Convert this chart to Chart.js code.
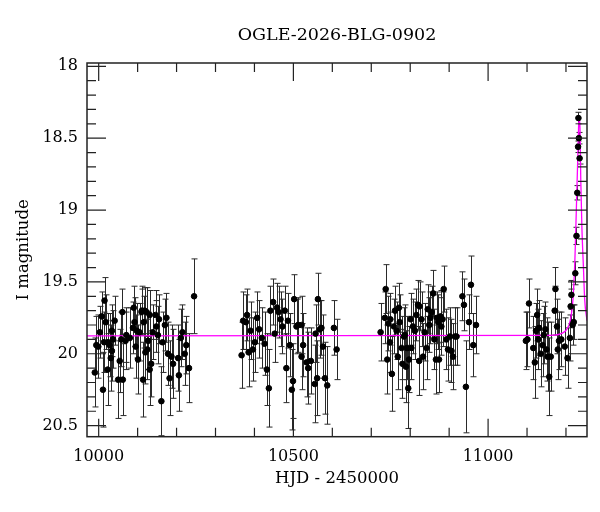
<!DOCTYPE html>
<html>
<head>
<meta charset="utf-8">
<script src="https://cdn.jsdelivr.net/npm/chart.js@4/dist/chart.umd.min.js"></script>
<style>
  html, body { margin: 0; padding: 0; background: #fff; }
  #wrap { width: 600px; height: 512px; }
</style>
</head>
<body>
<div id="wrap"><canvas id="lc" width="600" height="512"></canvas></div>
<script>
// photometry, one block per observing season
const season1Hjd = [9990, 9994, 9999, 10003, 10008, 10011, 10014, 10015, 10018, 10023,
    10024, 10028, 10031, 10034, 10034, 10037, 10041, 10050, 10054, 10058,
    10061, 10062, 10069, 10071, 10080, 10088, 10090, 10092, 10095, 10098,
    10101, 10105, 10110, 10111, 10114, 10116, 10118, 10120, 10123, 10125,
    10127, 10131, 10131, 10135, 10139, 10146, 10148, 10152, 10155, 10161,
    10164, 10170, 10174, 10178, 10182, 10187, 10191, 10204, 10206, 10211,
    10215, 10221, 10225, 10232, 10245];
const season1Mag = [20.13, 19.94, 19.95, 19.85, 19.74, 20.25, 19.92, 19.63, 19.78, 20.11,
    19.92, 19.94, 20.03, 19.84, 19.98, 19.90, 19.77, 20.18, 20.05, 19.90,
    19.71, 20.18, 19.91, 19.87, 19.89, 19.82, 19.68, 19.78, 19.95, 19.84,
    20.04, 19.85, 19.71, 19.70, 20.18, 19.78, 19.70, 19.99, 19.71, 19.97,
    19.91, 20.11, 19.73, 20.07, 19.85, 19.73, 19.81, 19.87, 19.76, 20.33,
    19.92, 19.80, 19.75, 20.00, 20.17, 20.02, 20.07, 20.03, 20.15, 19.89,
    19.85, 20.00, 19.94, 20.10, 19.60];
const season1Err = [0.24, 0.20, 0.22, 0.18, 0.17, 0.26, 0.21, 0.16, 0.19, 0.25,
    0.20, 0.22, 0.23, 0.18, 0.21, 0.20, 0.17, 0.27, 0.22, 0.19,
    0.16, 0.25, 0.20, 0.19, 0.21, 0.18, 0.15, 0.17, 0.22, 0.19,
    0.24, 0.20, 0.16, 0.17, 0.26, 0.18, 0.16, 0.22, 0.17, 0.21,
    0.20, 0.25, 0.17, 0.23, 0.19, 0.17, 0.18, 0.20, 0.17, 0.24,
    0.21, 0.18, 0.17, 0.22, 0.26, 0.22, 0.24, 0.23, 0.25, 0.20,
    0.19, 0.22, 0.20, 0.24, 0.26];

const season2Hjd = [10367, 10371, 10378, 10381, 10385, 10390, 10396, 10401, 10407, 10412,
    10419, 10426, 10432, 10437, 10441, 10448, 10452, 10458, 10462, 10467,
    10472, 10478, 10482, 10486, 10491, 10496, 10499, 10502, 10508, 10512,
    10521, 10521, 10525, 10534, 10538, 10545, 10555, 10557, 10561, 10563,
    10568, 10572, 10576, 10581, 10587, 10604, 10611];
const season2Mag = [20.01, 19.77, 19.78, 19.73, 19.99, 19.84, 19.97, 19.92, 19.75, 19.83,
    19.89, 19.93, 20.11, 20.24, 19.70, 19.64, 19.86, 19.68, 19.71, 19.76,
    19.81, 19.70, 20.10, 19.77, 19.94, 20.25, 20.19, 19.62, 19.81, 19.80,
    19.80, 20.02, 19.94, 20.06, 20.10, 20.05, 20.21, 19.86, 20.17, 19.62,
    19.83, 19.82, 19.95, 20.17, 20.22, 19.82, 19.97];
const season2Err = [0.23, 0.20, 0.19, 0.18, 0.24, 0.20, 0.22, 0.21, 0.18, 0.20,
    0.21, 0.22, 0.25, 0.27, 0.17, 0.16, 0.20, 0.17, 0.18, 0.19,
    0.19, 0.17, 0.24, 0.19, 0.22, 0.28, 0.26, 0.17, 0.19, 0.19,
    0.20, 0.23, 0.22, 0.24, 0.25, 0.23, 0.27, 0.20, 0.26, 0.18,
    0.20, 0.19, 0.22, 0.25, 0.27, 0.19, 0.21];

const season3Hjd = [10724, 10735, 10737, 10741, 10744, 10748, 10749, 10753, 10758, 10761,
    10765, 10768, 10771, 10773, 10778, 10780, 10784, 10786, 10789, 10792,
    10795, 10797, 10801, 10803, 10807, 10812, 10816, 10820, 10823, 10824,
    10829, 10833, 10837, 10842, 10845, 10849, 10852, 10855, 10859, 10862,
    10866, 10869, 10872, 10874, 10878, 10880, 10883, 10886, 10893, 10897,
    10902, 10906, 10910, 10915, 10919, 10934, 10938, 10943, 10951, 10956,
    10962, 10969];
const season3Mag = [19.85, 19.75, 19.55, 20.04, 19.79, 19.92, 19.76, 20.14, 19.81, 19.70,
    19.84, 20.02, 19.68, 19.78, 19.96, 20.07, 19.88, 19.87, 20.09, 19.96,
    20.24, 20.04, 19.76, 19.96, 19.81, 19.84, 19.73, 19.66, 20.05, 19.67,
    19.76, 20.02, 19.85, 19.96, 19.69, 19.80, 19.75, 19.71, 19.58, 19.90,
    20.04, 19.75, 19.78, 20.04, 19.74, 19.81, 19.76, 19.55, 19.90, 19.97,
    19.88, 19.98, 20.02, 19.88, 19.88, 19.60, 19.66, 20.23, 19.78, 19.52,
    19.94, 19.80];
const season3Err = [0.20, 0.18, 0.17, 0.24, 0.19, 0.21, 0.18, 0.26, 0.19, 0.17,
    0.20, 0.23, 0.17, 0.19, 0.22, 0.24, 0.20, 0.21, 0.25, 0.22,
    0.28, 0.23, 0.18, 0.22, 0.19, 0.20, 0.18, 0.17, 0.24, 0.17,
    0.19, 0.23, 0.20, 0.22, 0.17, 0.19, 0.18, 0.18, 0.16, 0.21,
    0.24, 0.18, 0.19, 0.23, 0.18, 0.20, 0.19, 0.16, 0.21, 0.22,
    0.20, 0.22, 0.23, 0.20, 0.20, 0.17, 0.18, 0.32, 0.19, 0.20,
    0.22, 0.20];

const season4Hjd = [11097, 11101, 11105, 11116, 11120, 11123, 11126, 11129, 11131, 11135,
    11140, 11143, 11147, 11150, 11153, 11157, 11161, 11171, 11173, 11177,
    11179, 11182, 11188, 11197, 11204, 11210, 11212, 11214, 11217, 11220,
    11224, 11227, 11229, 11231, 11232, 11233, 11235];
const season4Mag = [19.91, 19.90, 19.65, 19.96, 20.06, 19.84, 19.73, 19.90, 19.82, 20.00,
    19.94, 19.87, 19.83, 19.97, 20.02, 20.16, 20.02, 19.70, 19.55, 19.81,
    19.97, 19.91, 19.90, 19.95, 20.03, 19.89, 19.67, 19.59, 19.80, 19.78,
    19.44, 19.18, 18.88, 18.56, 18.36, 18.50, 18.64];
const season4Err = [0.20, 0.19, 0.17, 0.22, 0.25, 0.19, 0.18, 0.21, 0.19, 0.23,
    0.22, 0.20, 0.19, 0.22, 0.24, 0.27, 0.24, 0.17, 0.15, 0.19,
    0.21, 0.20, 0.19, 0.20, 0.21, 0.16, 0.12, 0.10, 0.14, 0.12,
    0.08, 0.06, 0.05, 0.04, 0.04, 0.04, 0.04];

// microlensing model, sampled by eye from the magenta curve
const modelHjd = [9970, 11160, 11192, 11202, 11210, 11218, 11223, 11228, 11232, 11233,
    11236, 11238, 11241, 11245, 11248, 11254];
const modelMag = [19.875, 19.872, 19.855, 19.83, 19.78, 19.62, 19.34, 18.86, 18.47, 18.36,
    18.43, 18.79, 19.13, 19.41, 19.62, 19.77];

const xLabelTicks = [10000, 10500, 11000];
const xMinorTicks = [10100, 10200, 10300, 10400, 10600, 10700, 10800, 10900, 11100, 11200];
const yLabelTicks = [18, 18.5, 19, 19.5, 20, 20.5];
const yMinorTicks = [18.1, 18.2, 18.3, 18.4, 18.6, 18.7, 18.8, 18.9, 19.1, 19.2, 19.3, 19.4,
    19.6, 19.7, 19.8, 19.9, 20.1, 20.2, 20.3, 20.4];

const SERIF = "'DejaVu Serif', 'Liberation Serif', serif";

const hjd = [...season1Hjd, ...season2Hjd, ...season3Hjd, ...season4Hjd];
const mag = [...season1Mag, ...season2Mag, ...season3Mag, ...season4Mag];
const magErr = [...season1Err, ...season2Err, ...season3Err, ...season4Err];

const points = hjd.map((t, i) => ({ x: t, y: mag[i], e: magErr[i] }));
const model = modelHjd.map((t, i) => ({ x: t, y: modelMag[i] }));

const errorBars = {
    id: 'errorBars',
    beforeDatasetsDraw(chart) {
        const { ctx, chartArea: a, scales: { x, y } } = chart;
        ctx.save();
        ctx.beginPath();
        ctx.rect(a.left, a.top, a.right - a.left, a.bottom - a.top);
        ctx.clip();
        ctx.strokeStyle = '#2a2a2a';
        ctx.lineWidth = 1;
        ctx.beginPath();
        for (const p of points) {
            const px = Math.round(x.getPixelForValue(p.x)) + 0.5;
            const top = y.getPixelForValue(p.y - p.e);
            const bot = y.getPixelForValue(p.y + p.e);
            ctx.moveTo(px, top); ctx.lineTo(px, bot);
            ctx.moveTo(px - 3, top); ctx.lineTo(px + 3, top);
            ctx.moveTo(px - 3, bot); ctx.lineTo(px + 3, bot);
        }
        ctx.stroke();
        ctx.restore();
    }
};

// box round the plot with inward ticks on all four sides
const frameTicks = {
    id: 'frameTicks',
    afterDraw(chart) {
        const { ctx, chartArea: a, scales: { x, y } } = chart;
        ctx.save();
        ctx.strokeStyle = '#222';
        ctx.lineWidth = 1.5;
        ctx.strokeRect(a.left, a.top, a.right - a.left, a.bottom - a.top);
        ctx.lineWidth = 1.2;
        ctx.beginPath();
        const xTick = (v, len) => {
            const p = x.getPixelForValue(v);
            ctx.moveTo(p, a.bottom); ctx.lineTo(p, a.bottom - len);
            ctx.moveTo(p, a.top); ctx.lineTo(p, a.top + len);
        };
        const yTick = (v, len) => {
            const p = y.getPixelForValue(v);
            ctx.moveTo(a.left, p); ctx.lineTo(a.left + len, p);
            ctx.moveTo(a.right, p); ctx.lineTo(a.right - len, p);
        };
        xLabelTicks.forEach(v => xTick(v, 18));
        xMinorTicks.forEach(v => xTick(v, 9));
        yLabelTicks.forEach(v => yTick(v, 19));
        yMinorTicks.forEach(v => yTick(v, 9));
        ctx.stroke();
        ctx.restore();
    }
};

new Chart(document.getElementById('lc'), {
    type: 'scatter',
    data: {
        datasets: [
            {
                data: points,
                backgroundColor: '#000',
                borderColor: '#000',
                pointRadius: 2.8,
                pointHoverRadius: 2.8,
                order: 0
            },
            {
                type: 'line',
                data: model,
                borderColor: '#ff00ff',
                borderWidth: 1.3,
                pointRadius: 0,
                fill: false,
                cubicInterpolationMode: 'monotone',
                order: 1
            }
        ]
    },
    options: {
        responsive: false,
        animation: false,
        devicePixelRatio: 1,
        layout: { padding: { left: 0, right: 13, top: 0, bottom: 0 } },
        plugins: {
            legend: { display: false },
            tooltip: { enabled: false },
            title: {
                display: true,
                fullSize: false,
                text: 'OGLE-2026-BLG-0902',
                color: '#000',
                font: { family: SERIF, size: 17.5, weight: 'normal' },
                padding: { top: 25, bottom: 17 }
            }
        },
        scales: {
            x: {
                type: 'linear',
                min: 9970,
                max: 11254,
                grid: { display: false, drawTicks: false },
                border: { display: false },
                afterBuildTicks: axis => { axis.ticks = xLabelTicks.map(v => ({ value: v })); },
                afterFit: axis => { axis.height = 75.3; },
                ticks: {
                    color: '#000',
                    padding: 11,
                    maxRotation: 0,
                    autoSkip: false,
                    font: { family: SERIF, size: 16 },
                    callback: v => String(v)
                },
                title: {
                    display: true,
                    text: 'HJD - 2450000',
                    color: '#000',
                    font: { family: SERIF, size: 16.5 },
                    padding: { top: 0, bottom: 23 }
                }
            },
            y: {
                type: 'linear',
                reverse: true,
                min: 17.977,
                max: 20.577,
                grid: { display: false, drawTicks: false },
                border: { display: false },
                afterBuildTicks: axis => { axis.ticks = yLabelTicks.map(v => ({ value: v })); },
                afterFit: axis => { axis.width = 87; },
                ticks: {
                    color: '#000',
                    padding: 9,
                    autoSkip: false,
                    font: { family: SERIF, size: 16 },
                    callback: v => String(v)
                },
                title: {
                    display: true,
                    text: 'I magnitude',
                    color: '#000',
                    font: { family: SERIF, size: 16.5 },
                    padding: { top: 14, bottom: 0 }
                }
            }
        }
    },
    plugins: [errorBars, frameTicks]
});
</script>
</body>
</html>
